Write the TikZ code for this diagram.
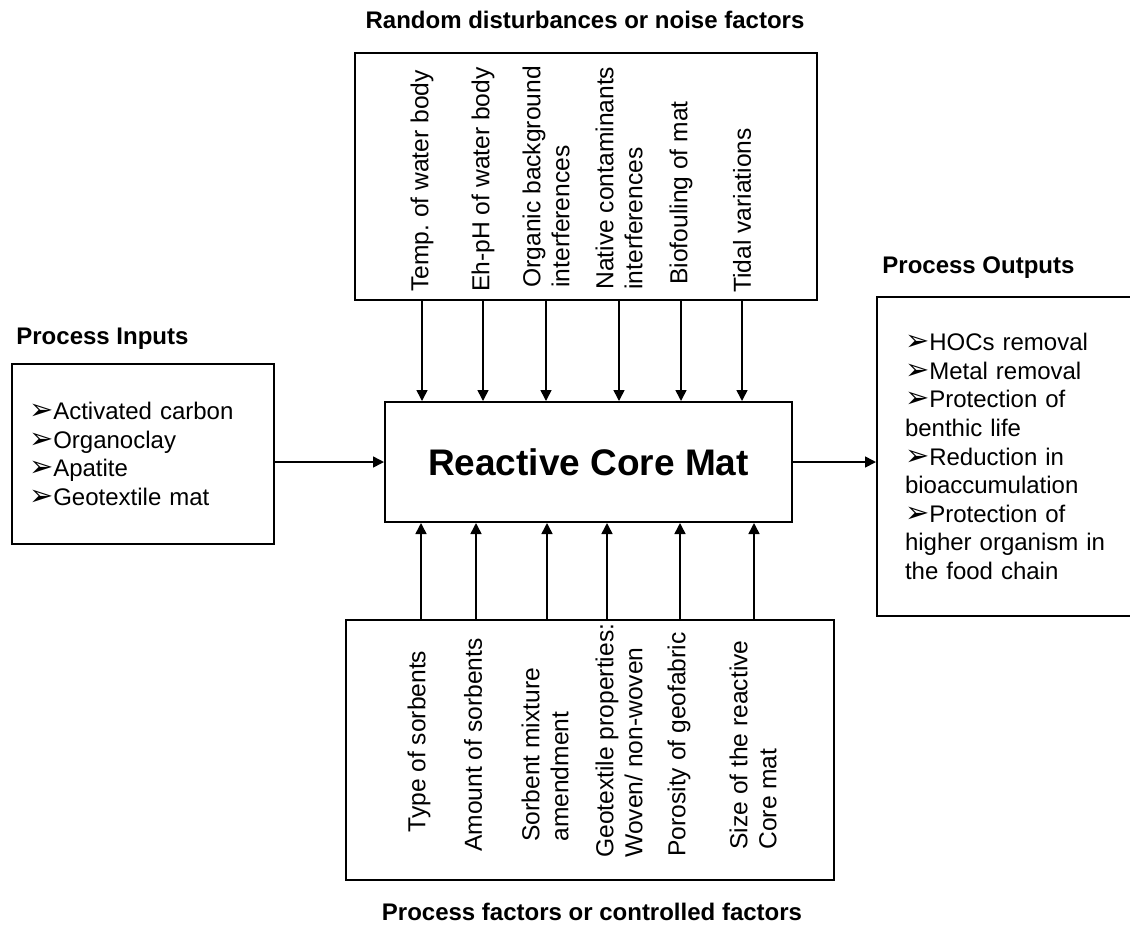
\documentclass[tikz,border=0pt]{standalone}
\usepackage{fontspec}
\setmainfont{Liberation Sans}
\newfontfamily\dvsym{DejaVu Sans}
\usetikzlibrary{arrows.meta}
\newcommand\itemarrow{{\dvsym\fontsize{14.5}{14}\selectfont ➢}}
\begin{document}
\begin{tikzpicture}[x=0.5pt,y=-0.5pt,
  box/.style={draw, line width=1pt, inner sep=0pt},
  vlab/.style={rotate=90, anchor=west, inner sep=0pt, align=left, font=\fontsize{12.3}{14.5}\selectfont},
  ttl/.style={font=\bfseries\fontsize{12}{14}\selectfont, inner sep=0pt},
  arr/.style={line width=0.8pt, -{Triangle[length=5.5pt,width=5.5pt]}},
  itemlist/.style={font=\fontsize{12}{14.3}\selectfont, align=left}
]
\useasboundingbox (0,0) rectangle (1130,928);
\clip (0,0) rectangle (1130,928);

% titles
\node[ttl, anchor=base] (tTop) at (585,28) {Random disturbances or noise factors};
\node[ttl, anchor=base west] (tIn) at (16,344) {Process Inputs};
\node[ttl, anchor=base west] (tOut) at (882,273) {Process Outputs};
\node[ttl, anchor=base] (tBot) at (592,920) {Process factors or controlled factors};

% boxes
\node[box, minimum width=231pt, minimum height=123.5pt] (topBox) at (586,176.5) {};
\node[box, minimum width=244pt, minimum height=130pt] (botBox) at (590,750) {};
\node[box, minimum width=203.5pt, minimum height=60pt,
      font=\bfseries\fontsize{18.5}{20}\selectfont] (core) at (588.5,462) {Reactive Core Mat};
\node[box, itemlist, minimum width=131pt, minimum height=90pt, text width=114pt, inner xsep=8.5pt]
  (leftBox) at (143,454)
  {\itemarrow Activated carbon\\\itemarrow Organoclay\\\itemarrow Apatite\\\itemarrow Geotextile mat};
\node[box, itemlist, minimum width=140pt, minimum height=159.5pt, text width=112pt, inner xsep=14pt]
  (rightBox) at (1017,456.5)
  {\itemarrow HOCs removal\\\itemarrow Metal removal\\\itemarrow Protection of\\benthic life\\\itemarrow Reduction in\\bioaccumulation\\\itemarrow Protection of\\higher organism in\\the food chain};

% noise factors
\node[vlab] (n1) at (422,292) {Temp.\ of water body};
\node[vlab] (n2) at (483,292) {Eh-pH of water body};
\node[vlab] (n3) at (546,288) {Organic background\\interferences};
\node[vlab] (n4) at (619,290) {Native contaminants\\interferences};
\node[vlab] (n5) at (681,285) {Biofouling of mat};
\node[vlab] (n6) at (742,293) {Tidal variations};

% controlled factors
\node[vlab] (c1) at (419,833) {Type of sorbents};
\node[vlab] (c2) at (473,852) {Amount of sorbents};
\node[vlab] (c3) at (545,842) {Sorbent mixture\\amendment};
\node[vlab] (c4) at (619,858) {Geotextile properties:\\Woven/ non-woven};
\node[vlab] (c5) at (679,857) {Porosity of geofabric};
\node[vlab] (c6) at (753,850) {Size of the reactive\\Core mat};

% connectors
\foreach \n in {n1,n2,n3,n4,n5,n6}
  \draw[arr] (\n |- topBox.south) -- (\n |- core.north);
\foreach \x in {421,476,547,607,680,754}
  \draw[arr] (\x,0 |- botBox.north) -- (\x,0 |- core.south);
\draw[arr] (leftBox.east |- core.west) -- (core.west);
\draw[arr] (core.east) -- (core.east -| rightBox.west);
\end{tikzpicture}
\end{document}
